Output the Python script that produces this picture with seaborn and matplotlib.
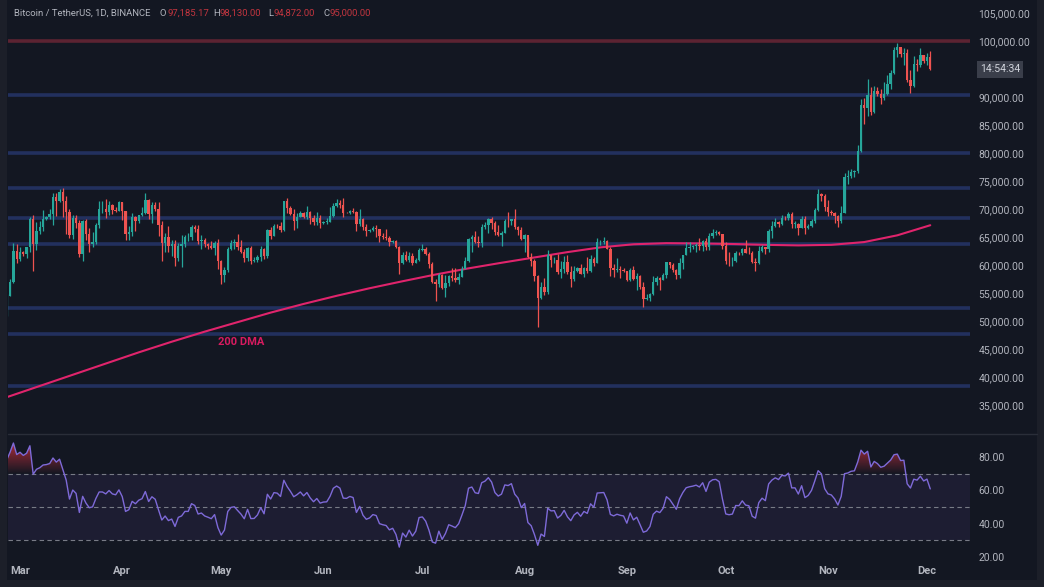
import numpy as np
import pandas as pd
import matplotlib
matplotlib.use("Agg")
import matplotlib.pyplot as plt
import seaborn as sns
from matplotlib.path import Path
from matplotlib.patches import Rectangle
from matplotlib.lines import Line2D
from matplotlib.colors import LinearSegmentedColormap

# ---------------- data (prices in thousands of USDT) ----------------
warmup_start = "2024-01-20"
# daily closes Jan 20 - Feb 25 (off-screen, only feed the RSI)
warmup_close = [41.62, 41.58, 39.57, 39.89, 40.08, 39.94, 41.82, 42.12, 42.03, 43.30, 42.95, 42.58,
                43.08, 43.19, 42.99, 42.58, 42.70, 43.09, 44.34, 45.29, 47.13, 47.75, 48.29, 49.96,
                49.70, 51.80, 51.90, 52.13, 51.64, 52.14, 51.78, 52.26, 51.84, 51.30, 50.73, 51.57, 51.73]

candle_start = "2024-02-26"
close = [
    54.48, 57.04, 62.43, 61.13,
    62.39, 62.03, 63.13, 68.25, 63.72, 66.07, 66.86, 68.28, 68.50, 69.02, 72.10, 71.45, 73.07, 71.39, 69.50, 65.30,
    68.39, 67.55, 61.93, 67.84, 65.50, 63.80, 64.10, 67.21, 69.99, 69.99, 69.45, 70.74, 69.87, 69.64, 71.33,
    69.70, 65.46, 65.96, 68.50, 67.83, 68.90, 69.36, 71.62, 69.15, 70.63, 70.01, 67.19, 63.92, 64.96, 63.43,
    63.80, 61.28, 63.47, 63.82, 64.94, 64.94, 66.84, 66.41, 64.28, 64.50, 63.77, 63.46, 63.12, 63.84, 60.64,
    58.25, 59.12, 62.89, 63.89, 64.03, 63.16, 62.33, 61.19, 63.07, 60.79, 60.82, 61.48, 62.94, 61.58, 66.27,
    65.23, 67.05, 66.94, 66.28, 71.45, 70.14, 69.12, 67.93, 68.53, 69.29, 68.52, 69.40, 68.37, 67.63, 68.35, 67.49,
    67.71, 67.75, 68.80, 70.55, 71.08, 70.79, 69.35, 69.31, 69.65, 69.51, 67.32, 68.24, 66.75, 66.01, 66.19,
    66.64, 66.49, 65.15, 64.96, 64.83, 64.10, 64.25, 63.18, 60.28, 61.80, 60.86, 61.67, 60.32, 60.89, 62.68,
    62.77, 62.02, 60.20, 57.04, 56.64, 58.23, 55.85, 56.70, 58.05, 57.72, 57.34, 57.89, 59.20, 60.80, 64.72,
    65.04, 64.09, 63.97, 66.70, 67.15, 68.16, 67.53, 65.93, 65.36, 65.77, 67.90, 67.81, 68.25, 66.78, 66.19, 64.62,
    65.35, 61.50, 60.68, 58.11, 54.02, 56.03, 55.13, 61.70, 60.88, 60.94, 58.71, 59.35, 60.60, 58.74, 57.56,
    58.87, 59.48, 58.43, 59.49, 59.01, 61.16, 60.38, 64.10, 64.18, 64.25, 62.83, 59.42, 59.03, 59.37, 59.12, 58.97,
    57.30, 59.13, 57.49, 57.97, 56.16, 53.96, 54.16, 54.87, 57.05, 57.64, 57.34, 58.13, 60.50, 60.00, 59.13,
    58.21, 60.31, 61.76, 62.95, 63.20, 63.35, 63.58, 63.34, 64.26, 63.15, 65.18, 65.77, 65.86, 65.60, 63.33,
    60.80, 60.65, 60.75, 62.08, 62.06, 62.82, 62.22, 62.13, 60.58, 60.27, 62.44, 63.19, 62.85, 66.08, 67.04,
    67.61, 67.40, 68.42, 68.36, 69.03, 67.37, 67.38, 66.65, 68.16, 66.64, 67.02, 67.93, 69.91, 72.74, 72.34, 70.29,
    69.50, 69.34, 68.75, 67.80, 69.37, 75.64, 75.90, 76.54, 76.70, 80.37, 88.65, 87.95, 90.38, 87.33, 91.07,
    90.60, 89.85, 90.46, 92.31, 94.29, 98.35, 98.90, 97.70, 97.90, 93.01, 91.97, 95.86, 95.64, 97.46, 96.41,
    97.19, 95.00]
high = [
    54.90, 57.55, 64.00, 63.68,
    63.20, 62.50, 63.23, 68.50, 69.00, 67.60, 67.90, 69.90, 68.80, 70.00, 72.80, 72.90, 73.60, 73.78, 72.40, 70.00,
    68.90, 68.90, 68.10, 68.00, 68.20, 66.60, 65.90, 67.50, 71.50, 71.50, 71.70, 71.50, 70.90, 70.30, 71.40,
    71.30, 69.70, 66.90, 69.30, 68.70, 69.00, 70.30, 72.80, 71.80, 71.20, 71.20, 71.20, 67.90, 65.80, 66.90,
    64.40, 64.50, 64.00, 65.40, 65.40, 65.70, 67.20, 67.20, 67.10, 65.30, 64.80, 63.90, 64.30, 64.20, 64.70,
    60.90, 59.60, 63.30, 64.50, 64.60, 65.50, 64.40, 62.90, 63.30, 63.40, 61.40, 61.80, 63.40, 63.10, 66.40,
    66.70, 67.40, 67.40, 67.70, 71.50, 71.90, 70.60, 70.00, 69.20, 69.60, 69.50, 70.60, 69.60, 68.90, 69.50, 69.00,
    67.90, 68.40, 70.30, 71.10, 71.80, 71.60, 71.99, 69.50, 69.90, 70.20, 69.60, 70.00, 68.40, 67.30, 66.40,
    66.90, 67.20, 66.50, 65.70, 66.50, 65.10, 64.50, 64.50, 63.40, 62.40, 62.50, 62.30, 62.20, 61.20, 63.00,
    63.80, 63.30, 62.30, 60.50, 57.50, 58.50, 58.40, 58.20, 58.30, 59.50, 59.40, 58.50, 59.90, 61.40, 64.90,
    65.40, 66.10, 65.10, 67.40, 67.60, 68.40, 68.50, 67.80, 67.10, 66.10, 68.20, 69.40, 68.30, 70.00, 66.90, 66.80,
    65.60, 65.00, 62.20, 61.10, 58.30, 57.00, 57.70, 62.70, 61.70, 61.50, 61.90, 60.70, 61.60, 61.80, 59.80,
    59.80, 59.60, 60.20, 59.60, 61.40, 61.80, 61.40, 64.90, 64.50, 65.00, 64.50, 63.20, 60.20, 61.20, 59.80, 59.40,
    59.00, 59.40, 59.80, 58.50, 58.30, 56.99, 54.90, 55.00, 58.10, 58.00, 57.90, 58.60, 60.60, 60.50, 60.40,
    59.20, 61.30, 61.80, 64.10, 64.10, 63.60, 64.00, 64.80, 64.50, 64.80, 65.80, 66.50, 66.30, 66.00, 65.60,
    64.10, 62.40, 61.50, 62.50, 62.40, 62.99, 64.50, 63.30, 62.50, 61.30, 63.40, 63.50, 63.30, 66.50, 67.90,
    68.40, 67.90, 68.90, 68.70, 69.40, 69.50, 67.80, 67.50, 68.80, 68.70, 67.40, 68.30, 70.20, 73.60, 72.90, 72.70,
    71.60, 69.90, 69.40, 69.00, 70.60, 76.40, 76.90, 77.20, 76.90, 81.50, 89.60, 89.90, 93.30, 91.80, 91.90,
    91.80, 91.50, 92.60, 94.00, 94.90, 98.90, 99.60, 98.80, 98.70, 98.50, 94.90, 97.30, 96.70, 98.70, 97.50,
    97.90, 98.13]
low = [
    50.90, 54.45, 56.70, 60.36,
    60.80, 61.60, 61.30, 62.40, 59.00, 62.70, 65.60, 66.10, 68.00, 68.20, 67.20, 68.80, 71.30, 68.60, 65.60, 64.80,
    64.60, 66.60, 61.50, 60.80, 64.50, 62.30, 63.30, 63.80, 66.60, 69.30, 68.40, 68.90, 69.10, 69.50, 69.60,
    68.10, 64.50, 64.50, 65.10, 66.00, 67.50, 68.70, 69.10, 68.20, 67.50, 69.60, 65.10, 60.70, 62.30, 62.30,
    61.60, 59.80, 60.80, 59.60, 63.20, 64.30, 64.50, 65.90, 63.80, 62.80, 63.30, 62.80, 62.80, 61.80, 59.20,
    56.55, 56.90, 58.80, 62.60, 62.90, 62.70, 62.20, 60.60, 60.70, 60.20, 60.50, 60.60, 60.80, 61.10, 61.30,
    64.60, 65.10, 66.60, 65.90, 66.10, 69.20, 68.90, 66.30, 66.60, 68.50, 68.40, 68.20, 67.30, 67.10, 67.10, 66.60,
    67.40, 67.30, 67.60, 68.50, 70.40, 70.10, 68.50, 69.20, 69.10, 69.20, 66.10, 66.90, 66.30, 65.10, 65.90,
    66.00, 65.00, 64.10, 64.70, 64.50, 63.40, 63.90, 63.00, 58.40, 60.20, 60.70, 60.60, 60.00, 60.30, 60.70,
    62.50, 61.80, 59.40, 56.80, 53.50, 56.00, 55.70, 54.30, 56.30, 57.20, 57.00, 56.60, 57.80, 59.20, 60.60,
    62.40, 63.90, 63.20, 63.30, 66.50, 65.80, 66.50, 65.40, 65.10, 63.40, 65.70, 66.70, 67.10, 66.50, 65.30, 64.50,
    62.30, 61.20, 59.90, 57.20, 49.00, 53.90, 54.60, 54.80, 59.60, 60.30, 58.40, 57.60, 58.50, 58.40, 56.10,
    57.10, 58.80, 58.40, 57.80, 58.60, 58.80, 59.80, 60.40, 63.60, 63.80, 62.80, 58.10, 57.90, 58.80, 57.70, 58.80,
    57.20, 57.10, 57.40, 55.60, 55.70, 52.55, 53.70, 53.60, 54.60, 56.40, 55.50, 57.30, 57.60, 59.50, 58.70,
    57.50, 57.60, 59.20, 61.70, 62.30, 62.80, 62.40, 62.70, 62.50, 62.70, 62.70, 64.80, 65.40, 65.40, 62.90,
    60.20, 59.90, 59.80, 60.50, 61.70, 61.80, 62.10, 61.90, 60.30, 58.90, 60.10, 62.40, 62.00, 62.40, 64.80,
    66.70, 66.70, 67.10, 68.00, 68.10, 66.60, 66.60, 65.30, 66.60, 65.50, 66.50, 66.80, 67.50, 69.70, 71.40, 69.70,
    68.80, 69.00, 67.50, 66.80, 67.50, 69.30, 74.50, 75.60, 75.70, 76.50, 80.20, 85.10, 86.60, 86.70, 87.10,
    90.10, 88.70, 89.40, 90.40, 91.50, 94.10, 97.20, 97.20, 95.80, 92.60, 90.80, 91.80, 94.60, 95.40, 96.10,
    95.70, 94.87]

# 200-day moving average, sampled every 10 days from Feb 26
dma_start = "2024-02-26"
dma_values = [36.40, 38.40, 40.40, 42.40, 44.40, 46.30, 48.10, 49.80, 51.50, 53.05, 54.50, 55.85,
              57.10, 58.30, 59.40, 60.40, 61.35, 62.30, 63.15, 63.70, 63.90, 63.85, 63.75, 63.60,
              63.50, 63.60, 64.10, 65.30, 67.10]

# horizontal levels
support_levels = [90.4, 80.0, 73.75, 68.45, 63.7, 52.4, 47.75, 38.45]
resistance_level = 100.0

# price axis labels (95,000 sits under the countdown box)
price_ticks = [35, 40, 45, 50, 55, 60, 65, 70, 75, 80, 85, 90, 100, 105]
rsi_ticks = [20, 40, 60, 80]
header = "Bitcoin / TetherUS, 1D, BINANCE"
ohlc_header = [("O", "97,185.17"), ("H", "98,130.00"), ("L", "94,872.00"), ("C", "95,000.00")]
countdown = "14:54:34"

# ---------------- derived series ----------------
ref = pd.Timestamp("2024-03-01")
k = 1000.0
c = np.array(close) * k
h = np.array(high) * k
l = np.array(low) * k
o = np.concatenate([[warmup_close[-1] * k], c[:-1]])
cdates = pd.date_range(candle_start, periods=len(c), freq="D")
cx = np.asarray((cdates - ref).days, dtype=float)

all_close = pd.Series(np.concatenate([np.array(warmup_close) * k, c]))
adates = pd.date_range(warmup_start, periods=len(all_close), freq="D")
ax_days = np.asarray((adates - ref).days, dtype=float)
delta = all_close.diff()
gain = delta.clip(lower=0).ewm(alpha=1 / 14, adjust=False).mean()
loss = (-delta.clip(upper=0)).ewm(alpha=1 / 14, adjust=False).mean()
rsi = (100 - 100 / (1 + gain / loss)).to_numpy()
rsi_df = pd.DataFrame({"day": ax_days[14:], "rsi": rsi[14:]})

dma_dates = pd.date_range(dma_start, periods=len(dma_values), freq="10D")
dma_df = pd.DataFrame({"day": np.asarray((dma_dates - ref).days, dtype=float),
                       "dma": np.array(dma_values) * k})

# ---------------- style ----------------
sns.set_theme(style="dark")
plt.rcParams["font.family"] = ["Roboto", "DejaVu Sans"]

BG = "#131722"
TXT = "#b2b5be"
UP = "#26a69a"
DOWN = "#ef5350"
W, H = 1044, 587


def fx(px):
    return px / W


def fy(py):
    return 1 - py / H


fig = plt.figure(figsize=(W / 100, H / 100), dpi=100, facecolor="#1c1f29")
fig.add_artist(Rectangle((fx(7), fy(580)), fx(1037) - fx(7), fy(0) - fy(580),
                         transform=fig.transFigure, facecolor=BG, edgecolor="none", zorder=0))

XMIN, XMAX = -3.64, 288.05
ax = fig.add_axes([fx(8), fy(432), fx(970) - fx(8), fy(0) - fy(432)])
ax2 = fig.add_axes([fx(8), fy(560), fx(970) - fx(8), fy(437) - fy(560)])
for a in (ax, ax2):
    a.set_facecolor("none")
    for s in a.spines.values():
        s.set_visible(False)
    a.grid(False)

# ---- main panel ----
for lv in support_levels:
    ax.axhline(lv * k, color="#22305e", lw=2.6, zorder=1)
ax.axhline(resistance_level * k, color="#5c2332", lw=2.6, zorder=1)

sns.lineplot(data=dma_df, x="day", y="dma", ax=ax, color="#e0246c", lw=1.5, zorder=2)

cols = np.where(c >= o, UP, DOWN)
ax.vlines(cx, l, h, colors=cols, lw=0.9, zorder=3)
body_lo = np.minimum(o, c)
body_h = np.maximum(np.abs(c - o), 60)
ax.bar(cx, body_h, bottom=body_lo, width=0.72, color=cols, edgecolor="none", zorder=4)

ax.text(60.0, 46250, "200 DMA", color="#d81b60", fontsize=8, fontweight="bold", ha="left", va="center")

ax.set_xlim(XMIN, XMAX)
ax.set_ylim(30180, 107320)
ax.set_xlabel("")
ax.set_ylabel("")
ax.yaxis.tick_right()
ax.set_yticks([t * k for t in price_ticks])
ax.set_yticklabels([f"{t * k:,.2f}" for t in price_ticks])
ax.tick_params(axis="y", length=0, pad=6, labelsize=7.5, labelcolor=TXT)
ax.tick_params(axis="x", length=0, labelbottom=False)

# ---- RSI panel ----
ax2.axhspan(30, 70, color="#7e57c2", alpha=0.1, lw=0, zorder=0)
for lvl in (70, 50, 30):
    ax2.axhline(lvl, color="#787b86", lw=0.8, dashes=(4, 3), zorder=1)

x_r = rsi_df["day"].to_numpy()
y_r = rsi_df["rsi"].to_numpy()
grad = np.linspace(0, 1, 256).reshape(-1, 1)


def grad_fill(cond, base, top, rgb, flip):
    poly = ax2.fill_between(x_r, base, y_r, where=cond, interpolate=True,
                            facecolor="none", edgecolor="none")
    paths = poly.get_paths()
    if not paths:
        return
    cp = Path.make_compound_path(*paths)
    cm = LinearSegmentedColormap.from_list("g", [(*rgb, 0.0), (*rgb, 0.8)])
    g = grad if not flip else grad[::-1]
    lo, hi = (base, top) if not flip else (top, base)
    im = ax2.imshow(g, extent=[x_r.min(), x_r.max(), lo, hi], origin="lower",
                    aspect="auto", cmap=cm, zorder=2, interpolation="bilinear")
    im.set_clip_path(cp, transform=ax2.transData)


grad_fill(y_r >= 70, 70, 92, (0.95, 0.21, 0.27), False)
grad_fill(y_r <= 30, 30, 15, (0.03, 0.60, 0.51), True)

sns.lineplot(data=rsi_df, x="day", y="rsi", ax=ax2, color="#7e6ad8", lw=1.0, zorder=3)

ax2.set_xlim(XMIN, XMAX)
ax2.set_ylim(17.9, 92.4)
ax2.set_xlabel("")
ax2.set_ylabel("")
ax2.yaxis.tick_right()
ax2.set_yticks(rsi_ticks)
ax2.set_yticklabels([f"{t:.2f}" for t in rsi_ticks])
ax2.tick_params(axis="y", length=0, pad=6, labelsize=7.5, labelcolor=TXT)
months = pd.date_range("2024-03-01", "2024-12-01", freq="MS")
ax2.set_xticks(np.asarray((months - ref).days, dtype=float))
ax2.set_xticklabels([m.strftime("%b") for m in months])
ax2.tick_params(axis="x", length=0, pad=4, labelsize=8, labelcolor=TXT)
for t in ax2.get_xticklabels():
    t.set_fontweight("semibold")

# ---- separators & header ----
fig.add_artist(Line2D([fx(8), fx(1037)], [fy(434), fy(434)], color="#2a2e39", lw=1.0))

HFS = 6.8
fig.text(fx(14), fy(13), header, color=TXT, fontsize=HFS, va="center", ha="left")
xs = [(160, 167), (213, 220), (268, 274), (323, 330)]
for (lab, val), (x1, x2) in zip(ohlc_header, xs):
    fig.text(fx(x1), fy(13), lab, color=TXT, fontsize=HFS, va="center", ha="left")
    fig.text(fx(x2), fy(13), val, color="#c2353f", fontsize=HFS, va="center", ha="left")

fig.text(fx(980), fy(69.5), countdown, color="#d1d4dc", fontsize=7.5, va="center", ha="left",
         bbox=dict(boxstyle="square,pad=0.3", fc="#3a3e4a", ec="none"))

fig.savefig("out.png", dpi=100, facecolor=fig.get_facecolor())
